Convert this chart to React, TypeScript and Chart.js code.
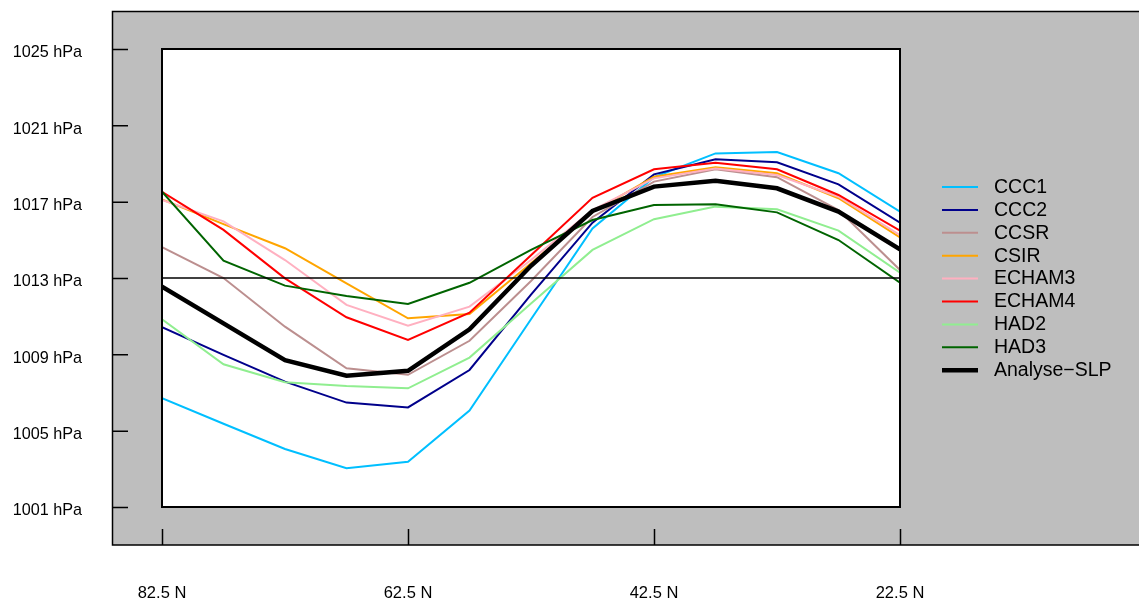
import { useEffect, useRef } from 'react';
import { Chart, registerables } from 'chart.js';

Chart.register(...registerables);

// ---- data ----
const latitudes = [82.5, 77.5, 72.5, 67.5, 62.5, 57.5, 52.5, 47.5, 42.5, 37.5, 32.5, 27.5, 22.5];
const latTicks = [82.5, 62.5, 42.5, 22.5];
const pressureTicks = [1001, 1005, 1009, 1013, 1017, 1021, 1025];
const referenceLevel = 1013;

const ccc1 = [1006.7, 1005.36, 1004.04, 1003.03, 1003.37, 1006.05, 1010.84, 1015.6, 1018.28, 1019.53, 1019.6, 1018.49, 1016.48];
const ccc2 = [1010.42, 1008.97, 1007.57, 1006.47, 1006.22, 1008.18, 1012.13, 1015.9, 1018.43, 1019.22, 1019.06, 1017.91, 1015.9];
const ccsr = [1014.62, 1013.0, 1010.45, 1008.27, 1007.93, 1009.71, 1012.84, 1016.2, 1018.05, 1018.7, 1018.28, 1016.56, 1013.42];
const csir = [1017.12, 1015.82, 1014.56, 1012.72, 1010.89, 1011.11, 1013.77, 1016.45, 1018.31, 1018.8, 1018.49, 1017.18, 1015.13];
const echam3 = [1017.09, 1015.97, 1013.94, 1011.59, 1010.5, 1011.5, 1013.94, 1016.56, 1018.22, 1018.74, 1018.4, 1017.26, 1015.25];
const echam4 = [1017.52, 1015.52, 1012.98, 1010.94, 1009.75, 1011.18, 1014.19, 1017.2, 1018.7, 1019.04, 1018.7, 1017.35, 1015.48];
const had2 = [1010.84, 1008.48, 1007.54, 1007.34, 1007.22, 1008.83, 1011.66, 1014.47, 1016.08, 1016.74, 1016.6, 1015.48, 1013.28];
const had3 = [1017.52, 1013.91, 1012.6, 1012.06, 1011.64, 1012.75, 1014.47, 1016.04, 1016.83, 1016.86, 1016.44, 1014.99, 1012.75];
const analyseSlp = [1012.55, 1010.62, 1008.7, 1007.88, 1008.14, 1010.31, 1013.64, 1016.51, 1017.79, 1018.1, 1017.7, 1016.48, 1014.5];

const seriesNames = ['CCC1', 'CCC2', 'CCSR', 'CSIR', 'ECHAM3', 'ECHAM4', 'HAD2', 'HAD3', 'Analyse\u2212SLP'];
const seriesValues = [ccc1, ccc2, ccsr, csir, echam3, echam4, had2, had3, analyseSlp];
const seriesColors = ['#00BFFF', '#00008B', '#BC8F8F', '#FFA500', '#FFB0C0', '#FF0000', '#90EE90', '#006400', '#000000'];
const seriesWidths = [2, 2, 2, 2, 2, 2, 2, 2, 4.5];

const FONT = "'Liberation Sans', Arial, Helvetica, sans-serif";

const framePlugin = {
  id: 'rframe',
  beforeDraw(chart: any) {
    const { ctx, chartArea: a, width } = chart;
    const xs = chart.scales.x;
    const ys = chart.scales.y;
    ctx.save();
    ctx.fillStyle = '#BEBEBE';
    ctx.fillRect(113, 12, width - 113, 533);
    ctx.fillStyle = '#FFFFFF';
    ctx.fillRect(a.left, a.top, a.right - a.left, a.bottom - a.top);
    ctx.strokeStyle = '#000000';
    ctx.lineWidth = 1.5;
    ctx.beginPath();
    ctx.moveTo(width, 11.5);
    ctx.lineTo(112.5, 11.5);
    ctx.lineTo(112.5, 545);
    ctx.lineTo(width, 545);
    ys.ticks.forEach((t: any) => {
      const py = ys.getPixelForValue(t.value) + 0.5;
      ctx.moveTo(112.5, py);
      ctx.lineTo(128, py);
    });
    xs.ticks.forEach((t: any) => {
      const px = xs.getPixelForValue(t.value) + 0.5;
      ctx.moveTo(px, 545);
      ctx.lineTo(px, 529);
    });
    ctx.stroke();
    ctx.restore();
  },
  afterDatasetsDraw(chart: any) {
    const { ctx, chartArea: a } = chart;
    const ys = chart.scales.y;
    ctx.save();
    ctx.strokeStyle = '#000000';
    ctx.lineWidth = 1.5;
    const ry = ys.getPixelForValue(referenceLevel);
    ctx.beginPath();
    ctx.moveTo(a.left, ry);
    ctx.lineTo(a.right, ry);
    ctx.stroke();
    ctx.lineWidth = 2;
    ctx.strokeRect(a.left, a.top, a.right - a.left, a.bottom - a.top);
    ctx.restore();
  },
  afterDraw(chart: any) {
    const { ctx } = chart;
    ctx.save();
    ctx.font = `19.5px ${FONT}`;
    ctx.textBaseline = 'middle';
    ctx.textAlign = 'left';
    chart.data.datasets.forEach((ds: any, i: number) => {
      const y = 187 + i * 22.9;
      ctx.strokeStyle = ds.borderColor;
      ctx.lineWidth = ds.borderWidth;
      ctx.lineCap = 'butt';
      ctx.beginPath();
      ctx.moveTo(942, y);
      ctx.lineTo(978, y);
      ctx.stroke();
      ctx.fillStyle = '#000000';
      ctx.fillText(ds.label, 994, y + 0.5);
    });
    ctx.restore();
  },
};

export default function App() {
  const canvasRef = useRef<HTMLCanvasElement | null>(null);

  useEffect(() => {
    if (!canvasRef.current) return;
    const n = seriesNames.length;
    const chart = new Chart(canvasRef.current, {
      type: 'line',
      data: {
        datasets: seriesNames.map((name, i) => ({
          label: name,
          data: latitudes.map((lat, j) => ({ x: lat, y: seriesValues[i][j] })),
          borderColor: seriesColors[i],
          backgroundColor: seriesColors[i],
          borderWidth: seriesWidths[i],
          pointRadius: 0,
          pointHoverRadius: 0,
          tension: 0,
          fill: false,
          order: n - 1 - i,
        })),
      },
      options: {
        animation: false,
        responsive: false,
        devicePixelRatio: 1,
        events: [],
        layout: { padding: { left: 0, top: 49, right: 239, bottom: 0 } },
        plugins: {
          legend: { display: false },
          tooltip: { enabled: false },
          title: { display: false },
        },
        scales: {
          x: {
            type: 'linear',
            reverse: true,
            min: 22.5,
            max: 82.5,
            grid: { display: false, drawTicks: false },
            border: { display: false },
            afterBuildTicks: (scale: any) => {
              scale.ticks = latTicks.map((v) => ({ value: v }));
            },
            afterFit: (scale: any) => {
              scale.height = 97;
              scale.paddingLeft = 0;
              scale.paddingRight = 0;
            },
            ticks: {
              autoSkip: false,
              maxRotation: 0,
              padding: 77,
              color: '#000000',
              font: { family: FONT, size: 16.5 },
              callback: (v: any) => `${v} N`,
            },
          },
          y: {
            type: 'linear',
            min: 1001,
            max: 1025,
            grid: { display: false, drawTicks: false },
            border: { display: false },
            afterBuildTicks: (scale: any) => {
              scale.ticks = pressureTicks.map((v) => ({ value: v }));
            },
            afterFit: (scale: any) => {
              scale.width = 162;
              scale.paddingTop = 0;
              scale.paddingBottom = 0;
            },
            ticks: {
              autoSkip: false,
              padding: 80,
              labelOffset: 4,
              color: '#000000',
              font: { family: FONT, size: 16.2 },
              callback: (v: any) => `${v} hPa`,
            },
          },
        },
      },
      plugins: [framePlugin],
    } as any);
    return () => chart.destroy();
  }, []);

  return (
    <div style={{ position: 'absolute', left: 0, top: 0, width: 1139, height: 604 }}>
      <canvas ref={canvasRef} width={1139} height={604} style={{ display: 'block', width: 1139, height: 604 }} />
    </div>
  );
}
